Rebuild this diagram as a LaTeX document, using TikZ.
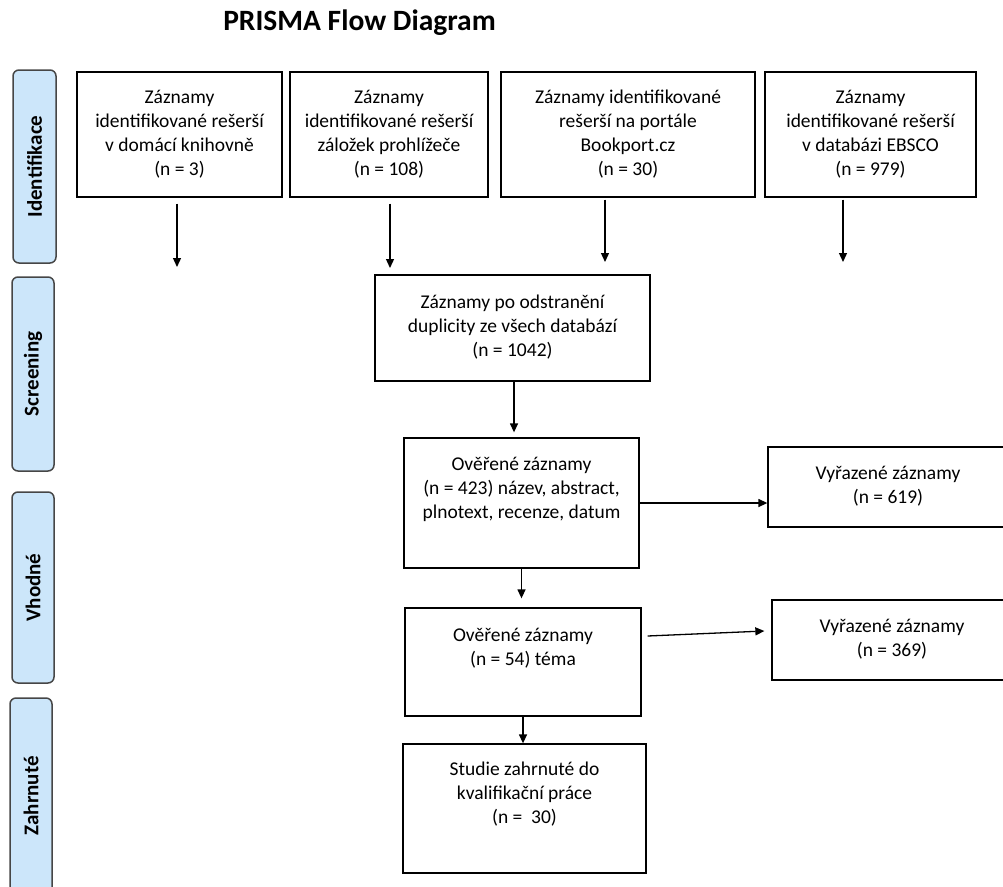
\documentclass[tikz,border=0pt]{standalone}
\usepackage{fontspec}
\setmainfont{Carlito}
\usetikzlibrary{arrows.meta}
\definecolor{lblfill}{RGB}{204,230,250}
\definecolor{lbldraw}{RGB}{70,70,70}
\begin{document}
\begin{tikzpicture}[x=1pt,y=-1pt,
  box/.style={draw=black, line width=1.3pt, inner sep=0pt, rectangle, align=center, font=\fontsize{19.5}{24}\selectfont},
  txt/.style={align=center, font=\fontsize{19.5}{24}\selectfont, inner sep=0pt},
  lbl/.style={draw=lbldraw, fill=lblfill, line width=1.5pt, rounded corners=6pt, rotate=90, inner sep=0pt, font=\fontsize{21}{24}\selectfont\bfseries},
  arr/.style={line width=1.3pt, -{Triangle[length=9pt,width=8pt]}},
]
\useasboundingbox (0,0) rectangle (1003,886);
\clip (0,0) rectangle (1003,886);

\node[font=\fontsize{29.5}{32}\selectfont\bfseries, inner sep=0pt] (title) at (359.5,23) {PRISMA Flow Diagram};

% phase labels
\node[lbl, minimum width=193pt, minimum height=43pt] (l1) at (34.5,166.5) {Identifikace};
\node[lbl, minimum width=194pt, minimum height=42pt] (l2) at (33,374) {Screening};
\node[lbl, minimum width=191pt, minimum height=42pt] (l3) at (33,587.5) {Vhodné};
\node[lbl, minimum width=196pt, minimum height=42pt] (l4) at (31,796) {Zahrnuté};

% identification boxes
\node[box, minimum width=205pt, minimum height=125pt] (b1) at (179.5,134.5)
  {\strut Záznamy\\identifikované rešerší\\v domácí knihovně\\(n = 3)\strut};
\node[box, minimum width=198pt, minimum height=125pt] (b2) at (389,134.5)
  {\strut Záznamy\\identifikované rešerší\\záložek prohlížeče\\(n = 108)\strut};
\node[box, minimum width=254pt, minimum height=125pt] (b3) at (628,134.5)
  {\strut Záznamy identifikované\\rešerší na portále\\Bookport.cz\\(n = 30)\strut};
\node[box, minimum width=211pt, minimum height=125pt] (b4) at (870.5,134.5)
  {\strut Záznamy\\identifikované rešerší\\v databázi EBSCO\\(n = 979)\strut};

\coordinate (e1) at (177,267);
\coordinate (e2) at (390,268);
\coordinate (e3) at (605,262);
\coordinate (e4) at (843,262);
\draw[arr, shorten <=6pt] (b1.south -| e1) -- (e1);
\draw[arr, shorten <=6pt] (b2.south -| e2) -- (e2);
\draw[arr, shorten <=2pt] (b3.south -| e3) -- (e3);
\draw[arr, shorten <=2pt] (b4.south -| e4) -- (e4);

% screening
\node[box, minimum width=275pt, minimum height=106pt] (b5) at (512.5,328)
  {\strut Záznamy po odstranění\\duplicity ze všech databází\\(n = 1042)\strut};

\node[box, minimum width=235pt, minimum height=130pt] (b6) at (521.5,503) {};
\node[txt] (t6) at (521.5,490) {\strut Ověřené záznamy\\(n = 423) název, abstract,\\plnotext, recenze, datum\strut};

\node[box, minimum width=240pt, minimum height=80pt] (b7) at (888,487)
  {\strut Vyřazené záznamy\\(n = 619)\strut};

\node[box, minimum width=236pt, minimum height=108pt] (b8) at (523,662) {};
\node[txt] (t8) at (523,648.5) {\strut Ověřené záznamy\\(n = 54) téma\strut};

\node[box, minimum width=240pt, minimum height=80pt] (b9) at (892,640)
  {\strut Vyřazené záznamy\\(n = 369)\strut};

\node[box, minimum width=243pt, minimum height=129pt] (b10) at (524.5,808.5) {};
\node[txt] (t10) at (524.5,795) {\strut Studie zahrnuté do\\kvalifikační práce\\(n =\ \ 30)\strut};

% connectors
\draw[arr, shorten >=5pt] ([xshift=1.5pt]b5.south) -- ([xshift=1.5pt]b5.south |- b6.north);
\draw[arr, shorten >=9pt] (b6.south) -- (b6.south |- b8.north);
\draw[arr] (b8.south) -- (b8.south |- b10.north);
\draw[arr] (b6.east) -- (b7.west |- b6.east);
\draw[arr] ([xshift=6pt,yshift=26pt]b8.east) -- ([xshift=-7pt,yshift=9pt]b9.west);
\end{tikzpicture}
\end{document}
